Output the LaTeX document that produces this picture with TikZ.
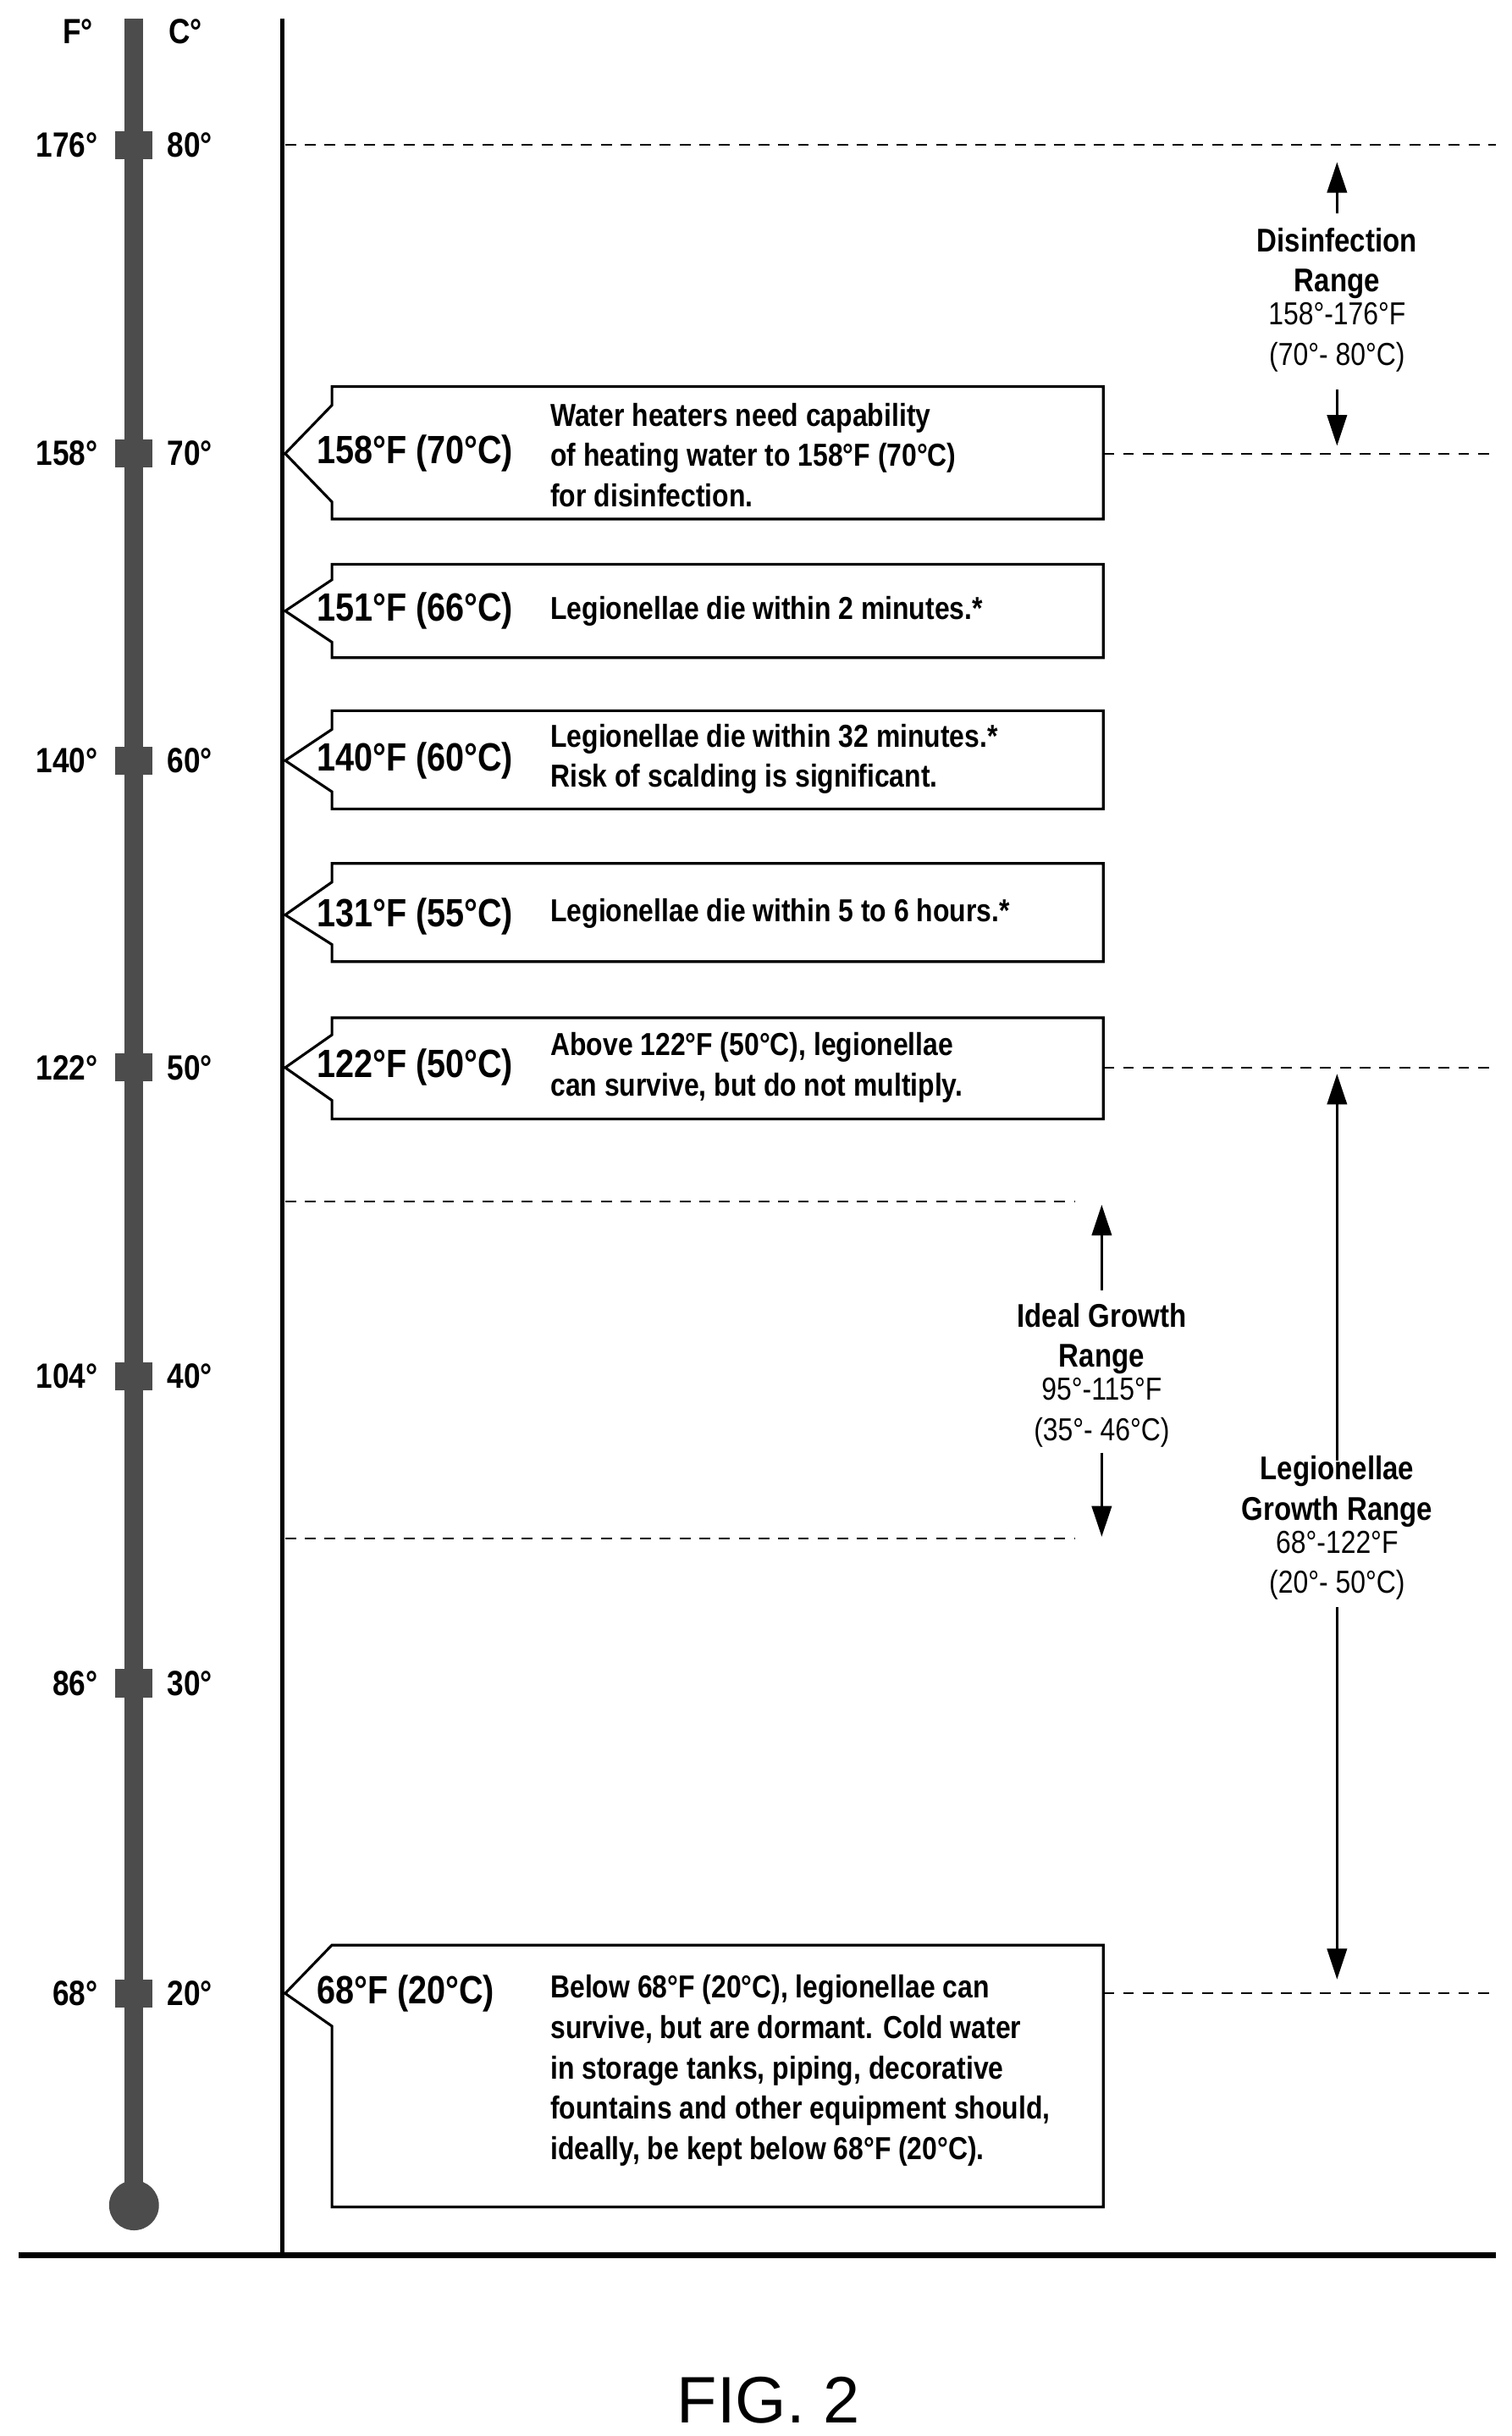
\documentclass[tikz,border=0pt]{standalone}
\usepackage{fontspec}
\setmainfont{Liberation Sans}[FakeStretch=0.85]
\newfontfamily\figfont{Liberation Sans}
\usetikzlibrary{arrows.meta}
\begin{document}
\begin{tikzpicture}[x=0.025cm,y=-0.025cm,
  box/.style={draw=black,line width=1.2pt,fill=white},
  lab/.style={font=\fontsize{18}{20}\selectfont\bfseries,anchor=west,inner sep=0},
  txt/.style={font=\fontsize{14.5}{18.4}\selectfont\bfseries,anchor=west,align=left,inner sep=0},
  axis/.style={font=\fontsize{16}{18}\selectfont\bfseries,inner sep=0},
  rng/.style={font=\fontsize{14.5}{18.4}\selectfont,align=center,inner sep=0},
  rngb/.style={font=\fontsize{15}{18.4}\selectfont\bfseries,align=center,inner sep=0},
  dline/.style={line width=0.8pt,dash pattern=on 5pt off 4pt},
  arr/.style={line width=1.2pt,-{Triangle[length=14pt,width=9pt]}}]
\useasboundingbox (0,0) rectangle (970,1563);
% thermometer
\fill[black!70] (80,12) rectangle (92,1405);
\fill[black!70] (86,1415) circle (16);
\foreach \y/\f/\c in {93/176/80,291/158/70,488/140/60,685/122/50,883/104/40,1080/86/30,1279/68/20}{
  \fill[black!70] (74,\y-9) rectangle (98,\y+9);
  \node[axis,anchor=east] at (63,\y) {\f°};
  \node[axis,anchor=west] at (107,\y) {\c°};
}
\node[axis] (fh) at (50,20) {F°};
\node[axis] (ch) at (119,20) {C°};
% axes
\draw[line width=2pt] (181,12) -- (181,1447);
\draw[line width=2.5pt] (12,1447) -- (960,1447);
\node[font=\figfont\fontsize{30}{32}\selectfont] (fig) at (493,1540) {FIG. 2};
% dashed lines
\draw[dline] (183,93) -- (960,93);
\draw[dline] (708,291) -- (960,291);
\draw[dline] (708,685) -- (960,685);
\draw[dline] (708,1279) -- (960,1279);
\draw[dline] (183,771) -- (690,771);
\draw[dline] (183,987) -- (690,987);
% boxes
\draw[box] (213,248) -- (708,248) -- (708,333) -- (213,333) -- (213,322) -- (183,291) -- (213,260) -- cycle;
\node[lab] (b1) at (203,291) {158°F (70°C)};
\node[txt] (t1) at (353,292) {Water heaters need capability\\of heating water to 158°F (70°C)\\for disinfection.};
\draw[box] (213,362) -- (708,362) -- (708,422) -- (213,422) -- (213,412) -- (183,392) -- (213,372) -- cycle;
\node[lab] (b2) at (203,392) {151°F (66°C)};
\node[txt] (t2) at (353,392) {Legionellae die within 2 minutes.*};
\draw[box] (213,456) -- (708,456) -- (708,519) -- (213,519) -- (213,508) -- (183,488) -- (213,468) -- cycle;
\node[lab] (b3) at (203,488) {140°F (60°C)};
\node[txt] (t3) at (353,487) {Legionellae die within 32 minutes.*\\Risk of scalding is significant.};
\draw[box] (213,554) -- (708,554) -- (708,617) -- (213,617) -- (213,606) -- (183,587) -- (213,566) -- cycle;
\node[lab] (b4) at (203,588) {131°F (55°C)};
\node[txt] (t4) at (353,586) {Legionellae die within 5 to 6 hours.*};
\draw[box] (213,653) -- (708,653) -- (708,718) -- (213,718) -- (213,706) -- (183,685) -- (213,664) -- cycle;
\node[lab] (b5) at (203,685) {122°F (50°C)};
\node[txt] (t5) at (353,685) {Above 122°F (50°C), legionellae\\can survive, but do not multiply.};
\draw[box] (213,1248) -- (708,1248) -- (708,1416) -- (213,1416) -- (213,1300) -- (183,1279) -- cycle;
\node[lab] (b6) at (203,1279) {68°F (20°C)};
\node[txt,anchor=north west] (t6) at (353,1267) {Below 68°F (20°C), legionellae can\\survive, but are dormant. Cold water\\in storage tanks, piping, decorative\\fountains and other equipment should,\\ideally, be kept below 68°F (20°C).};
% disinfection range
\node[rngb] (d1) at (858,169) {Disinfection\\Range};
\node[rng,anchor=north] (d2) at (858,194) {158°-176°F\\(70°- 80°C)};
\coordinate (du) at (858,104); \coordinate (dd) at (858,286);
\draw[arr] (858,137) -- (du);
\draw[arr] (858,250) -- (dd);
% ideal growth
\node[rngb] (i1) at (707,859) {Ideal Growth\\Range};
\node[rng,anchor=north] (i2) at (707,884) {95°-115°F\\(35°- 46°C)};
\coordinate (iu) at (707,773); \coordinate (id) at (707,986);
\draw[arr] (707,828) -- (iu);
\draw[arr] (707,932) -- (id);
% legionellae growth
\node[rngb] (l1) at (858,957) {Legionellae\\Growth Range};
\node[rng,anchor=north] (l2) at (858,982) {68°-122°F\\(20°- 50°C)};
\coordinate (lu) at (858,689); \coordinate (ld) at (858,1270);
\draw[arr] (858,937) -- (lu);
\draw[arr] (858,1031) -- (ld);
\end{tikzpicture}
\end{document}
